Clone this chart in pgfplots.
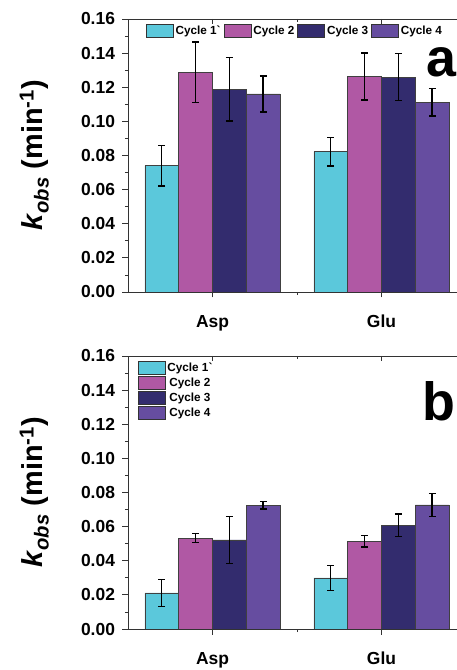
\documentclass[border=0pt]{standalone}
\usepackage{pgfplots}
\pgfplotsset{compat=1.18}
\usepackage{fontspec}
\setmainfont{Liberation Sans}
\definecolor{c1}{HTML}{5BC8DB}
\definecolor{c2}{HTML}{B058A4}
\definecolor{c3}{HTML}{332C6E}
\definecolor{c4}{HTML}{664DA0}
\definecolor{axc}{HTML}{333333}

\pgfplotsset{
  panel/.style={
    scale only axis, width=329bp, height=273bp,
    xmin=0.5, xmax=2.447, ymin=0, ymax=0.16,
    ybar=0pt, bar width=33.8bp,
    axis x line*=box, axis y line*=left,
    axis line style={axc, line width=0.8bp},
    every tick/.style={axc, line width=0.8bp},
    tick align=outside,
    major tick length=5.5bp, minor tick length=3bp,
    xtick={1,2}, xticklabels={Asp,Glu}, minor x tick num=1,
    xtick pos=bottom,
    ytick={0,0.02,...,0.16}, minor y tick num=1,
    ytick pos=left,
    /pgf/number format/assume math mode=true,
    yticklabel style={xshift=-4bp, /pgf/number format/.cd, fixed, fixed zerofill, precision=2},
    ticklabel style={font=\bfseries\fontsize{17.5}{19}\selectfont},
    xticklabel style={yshift=-14bp},
    ylabel={\textbf{\textit{k}\textsubscript{\textit{obs}} (min\textsuperscript{-1})}},
    every axis y label/.style={at={(axis description cs:-0.285,0.5)}, rotate=90, anchor=center, font=\bfseries\fontsize{29}{32}\selectfont},
    error bars/error bar style={black, line width=1.4bp},
    error bars/error mark options={black, rotate=90, mark size=3.4bp, line width=1.4bp},
    every axis plot post/.append style={legend image code/.code={\draw[##1, draw=black!80, line width=0.6bp] (0bp,-6.5bp) rectangle (27bp,6.5bp);}},
    after end axis/.code={
      \draw[axc, line width=0.8bp] (axis cs:1,0.16) -- ++(0,-5bp);
      \draw[axc, line width=0.8bp] (axis cs:1.5,0.16) -- ++(0,-3bp);
      \draw[axc, line width=0.8bp] (axis cs:2,0.16) -- ++(0,-5bp);
    },
  },
  barstyle/.style={fill=#1, draw=black!75, line width=0.5bp, error bars/.cd, y dir=both, y explicit},
}

\begin{document}
\begin{tikzpicture}
\useasboundingbox (0,0) rectangle (457bp,670bp);
\clip (0,0) rectangle (457bp,670bp);

% Panel a
\begin{axis}[panel, at={(128bp,378bp)}, anchor=south west,
  legend columns=4,
  legend style={draw=none, fill=none, at={(axis description cs:0.045,0.956)}, anchor=west,
    font=\bfseries\fontsize{11.8}{13}\selectfont,
    nodes={inner xsep=2bp}, /tikz/every even column/.append style={column sep=1bp}},
]
\addplot[barstyle=c1] coordinates {(1,0.0740) +- (0,0.0119) (2,0.0822) +- (0,0.0084)};
\addplot[barstyle=c2] coordinates {(1,0.1288) +- (0,0.0176) (2,0.1263) +- (0,0.0138)};
\addplot[barstyle=c3] coordinates {(1,0.1188) +- (0,0.0186) (2,0.1259) +- (0,0.0138)};
\addplot[barstyle=c4] coordinates {(1,0.1161) +- (0,0.0105) (2,0.1112) +- (0,0.0081)};
\legend{Cycle 1\textasciigrave, Cycle 2, Cycle 3, Cycle 4}
\node[anchor=base west, font=\bfseries\fontsize{54}{60}\selectfont, inner sep=0pt] at (axis description cs:0.907,0.79) {a};
\end{axis}

% Panel b
\begin{axis}[panel, at={(128bp,41bp)}, anchor=south west,
  legend columns=1,
  legend style={draw=none, fill=none, at={(axis description cs:0.02,0.99)}, anchor=north west,
    font=\bfseries\fontsize{11.8}{13}\selectfont,
    nodes={inner xsep=2bp, inner ysep=1bp}, row sep=1.5bp},
]
\addplot[barstyle=c1] coordinates {(1,0.0211) +- (0,0.0078) (2,0.0299) +- (0,0.0072)};
\addplot[barstyle=c2] coordinates {(1,0.0533) +- (0,0.0025) (2,0.0514) +- (0,0.0034)};
\addplot[barstyle=c3] coordinates {(1,0.0522) +- (0,0.0137) (2,0.0608) +- (0,0.0066)};
\addplot[barstyle=c4] coordinates {(1,0.0725) +- (0,0.0022) (2,0.0727) +- (0,0.0066)};
\legend{Cycle 1\textasciigrave, Cycle 2, Cycle 3, Cycle 4}
\node[anchor=base west, font=\bfseries\fontsize{54}{60}\selectfont, inner sep=0pt] at (axis description cs:0.893,0.762) {b};
\end{axis}
\end{tikzpicture}
\end{document}
